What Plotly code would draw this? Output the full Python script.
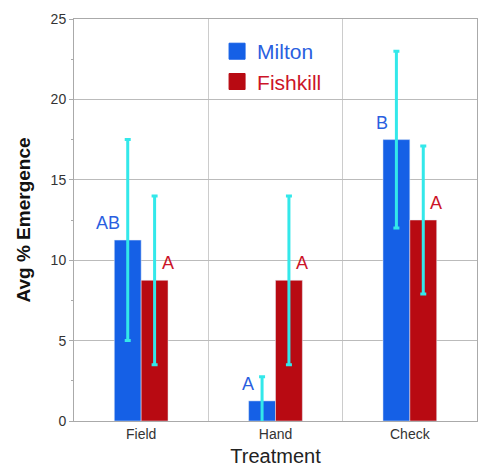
import plotly.graph_objects as go

categories = ["Field", "Hand", "Check"]
milton = [11.25, 1.25, 17.5]
fishkill = [8.75, 8.75, 12.5]
milton_err = [6.25, 1.5, 5.5]
fishkill_err = [5.25, 5.25, 4.6]
milton_letters = ["AB", "A", "B"]
fishkill_letters = ["A", "A", "A"]

BLUE = "#1560e6"
RED = "#b80a12"
BLUE_T = "#2a5fe0"
RED_T = "#cc1428"
CYAN = "#33e8ea"
FONT = "Liberation Sans, Arial, sans-serif"

fig = go.Figure()
fig.add_trace(go.Bar(
    x=categories, y=milton, name="Milton", marker_color=BLUE, showlegend=False,
    error_y=dict(type="data", array=milton_err, color=CYAN, thickness=3, width=3),
))
fig.add_trace(go.Bar(
    x=categories, y=fishkill, name="Fishkill", marker_color=RED, showlegend=False,
    error_y=dict(type="data", array=fishkill_err, color=CYAN, thickness=3, width=3),
))
# legend-only markers
fig.add_trace(go.Scatter(x=[None], y=[None], mode="markers",
                         name=f"<span style='color:{BLUE_T}'>Milton</span>",
                         marker=dict(symbol="square", size=16, color=BLUE,
                                     line=dict(color=BLUE, width=1))))
fig.add_trace(go.Scatter(x=[None], y=[None], mode="markers",
                         name=f"<span style='color:{RED_T}'>Fishkill</span>",
                         marker=dict(symbol="square", size=16, color=RED,
                                     line=dict(color=RED, width=1))))

annotations = []
for i, (v, t) in enumerate(zip(milton, milton_letters)):
    annotations.append(dict(x=i - 0.145, y=v, xref="x", yref="y", text=t,
                            showarrow=False, xanchor="right", yanchor="bottom",
                            yshift=5, font=dict(size=18, color=BLUE_T, family=FONT)))
for i, (v, t) in enumerate(zip(fishkill, fishkill_letters)):
    annotations.append(dict(x=i + 0.137, y=v, xref="x", yref="y", text=t,
                            showarrow=False, xanchor="left", yanchor="bottom",
                            yshift=5, font=dict(size=18, color=RED_T, family=FONT)))

# page body has an 8px default margin, so the figure is sized to fit the window
fig.update_layout(
    width=481, height=463,
    margin=dict(l=66, r=12, t=11, b=50, autoexpand=False),
    paper_bgcolor="white", plot_bgcolor="white",
    barmode="group", bargap=0.6, bargroupgap=0,
    font=dict(family=FONT, color="#333333"),
    annotations=annotations,
    legend=dict(x=0.355, y=0.97, xanchor="left", yanchor="top",
                font=dict(size=21, family=FONT),
                bgcolor="rgba(0,0,0,0)", itemclick=False),
    xaxis=dict(
        type="category", tickson="boundaries", showgrid=True, gridcolor="#cccccc",
        gridwidth=1, ticks="", showline=True, linecolor="#aaaaaa", mirror=True,
        tickfont=dict(size=14, color="#333333"), automargin=False,
        title=dict(text="Treatment", font=dict(size=20, color="#222222"), standoff=8),
    ),
    yaxis=dict(
        range=[0, 25], tickvals=[0, 5, 10, 15, 20, 25], showgrid=True,
        gridcolor="#bbbbbb", gridwidth=1, zeroline=False, showline=True,
        linecolor="#aaaaaa", mirror=True, ticks="outside", ticklen=4,
        tickcolor="#aaaaaa", tickfont=dict(size=14, color="#333333"), automargin=False,
        minor=dict(dtick=2.5, ticks="outside", ticklen=2, tickcolor="#aaaaaa", showgrid=False),
        title=dict(text="<b>Avg % Emergence</b>", font=dict(size=19, color="#111111"), standoff=14),
    ),
)
fig.data[2].update(legendrank=1)
fig.data[3].update(legendrank=2)

fig.write_html("out.html")
